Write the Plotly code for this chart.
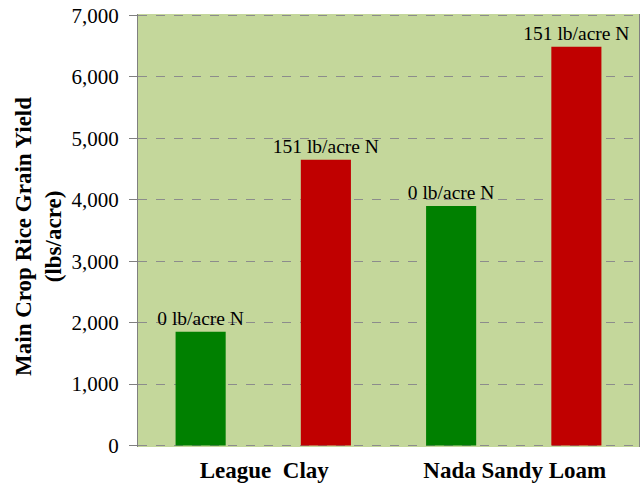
import plotly.graph_objects as go

soils = ["League  Clay", "Nada Sandy Loam"]
treatments = ["0 lb/acre N", "151 lb/acre N"]
yield_0N = [1850, 3900]
yield_151N = [4650, 6490]
y_ticks = [0, 1000, 2000, 3000, 4000, 5000, 6000, 7000]

colors = ["#008000", "#C00000"]
series = [yield_0N, yield_151N]

fig = go.Figure()
for name, vals, col in zip(treatments, series, colors):
    fig.add_trace(go.Bar(
        x=soils, y=vals, name=name,
        marker=dict(color=col, line=dict(width=0)),
        text=[name] * len(vals), textposition="outside",
        textfont=dict(family="Liberation Serif", size=19.5, color="black"),
        constraintext="none", cliponaxis=False,
    ))

fig.update_layout(
    width=643, height=490,
    margin=dict(l=138, r=4, t=13.5, b=42.5, autoexpand=False),
    paper_bgcolor="white", plot_bgcolor="#C4D79B",
    barmode="group", bargap=0.0, bargroupgap=0.6,
    showlegend=False,
    font=dict(family="Liberation Serif", color="black"),
)
fig.update_xaxes(
    type="category", automargin=False,
    tickvals=soils,
    ticktext=[s.replace("  ", "\u00a0\u00a0") for s in soils],
    tickfont=dict(family="Liberation Serif", size=23, color="black", weight="bold"),
    showgrid=False, showline=False, zeroline=False, ticks="",
    ticklabelstandoff=7, ticklabelshift=1,
)
fig.update_yaxes(
    range=[-25, 7025], tickvals=y_ticks, tickformat=",d", automargin=False,
    tickfont=dict(family="Liberation Serif", size=21, color="black"),
    ticklabeloverflow="allow",
    showgrid=True, gridcolor="#8C8C8C", griddash="dash", gridwidth=1,
    zeroline=False,
    showline=True, linecolor="#808080", linewidth=1, mirror=True,
    ticks="outside", ticklen=8, tickcolor="#808080",
    ticklabelstandoff=6,
)
fig.add_annotation(
    xref="paper", yref="paper", x=-0.2, y=0.487,
    xanchor="center", yanchor="middle", textangle=-90, showarrow=False,
    text="<b>Main Crop Rice Grain Yield</b><br><b>(lbs/acre)</b>",
    font=dict(family="Liberation Serif", size=23, color="black"),
)
# remove the browser's default 8px body margin so the figure fills the window
fig.write_html("out.html", config={"displayModeBar": False},
               post_script="document.body.style.margin='0';")
